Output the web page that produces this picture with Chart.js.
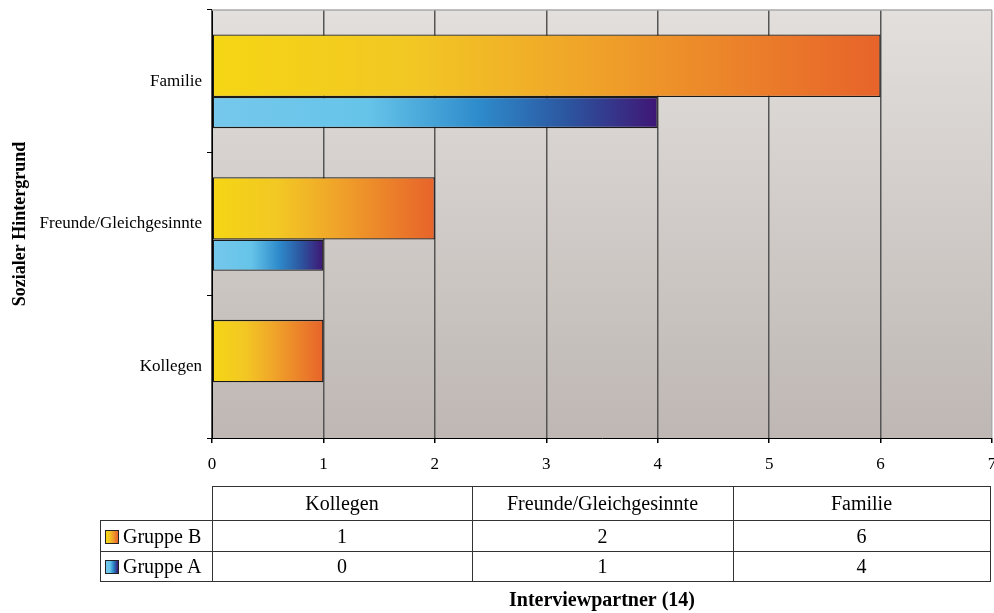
<!DOCTYPE html>
<html>
<head>
<meta charset="utf-8">
<script src="https://cdn.jsdelivr.net/npm/chart.js@4"></script>
<style>
    html, body { margin: 0; padding: 0; background: #fff; }
    #wrap { position: relative; width: 994px; height: 613px; }
    #chart { position: absolute; left: 0; top: 0; }
    #dataTable {
        position: absolute;
        left: 100px;
        top: 486px;
        border-collapse: collapse;
        font-family: 'Liberation Serif', 'Times New Roman', serif;
        font-size: 20px;
        color: #000;
    }
    #dataTable td {
        border: 1px solid #333;
        text-align: center;
        padding: 0;
    }
    #dataTable td.rowhead { text-align: left; padding-left: 4px; white-space: nowrap; }
    #dataTable td.corner { border-top: none; border-left: none; }
    .swatch {
        display: inline-block;
        width: 12px;
        height: 12px;
        border: 1px solid #222;
        margin-right: 4px;
        vertical-align: -1px;
    }
</style>
</head>
<body>
<div id="wrap">
    <canvas id="chart" width="994" height="613"></canvas>
    <table id="dataTable"></table>
</div>
<script>
// ========= DATA =========
const categories = ['Familie', 'Freunde/Gleichgesinnte', 'Kollegen'];
const gruppeB = [6, 2, 1];
const gruppeA = [4, 1, 0];
const seriesNames = ['Gruppe B', 'Gruppe A'];
const xTickValues = [0, 1, 2, 3, 4, 5, 6, 7];

// ========= COLOURS =========
const stopsB = [[0, '#F5D614'], [0.3, '#F2C724'], [0.55, '#F0A529'], [0.8, '#EB802A'], [1, '#E7632A']];
const stopsA = [[0, '#75C8EC'], [0.35, '#66C4E9'], [0.6, '#2E8BCB'], [0.8, '#2C559F'], [1, '#3F1675']];

function cssGradient(stops) {
    return 'linear-gradient(to right, ' + stops.map(s => s[1] + ' ' + (s[0] * 100) + '%').join(', ') + ')';
}

function barGradient(stops) {
    return ctx => {
        const chart = ctx.chart;
        if (!chart.chartArea || ctx.type !== 'data' || !ctx.parsed) return stops[0][1];
        const x = chart.scales.x;
        const x0 = x.getPixelForValue(0);
        const x1 = x.getPixelForValue(ctx.parsed.x);
        if (x1 - x0 < 1) return stops[0][1];
        const g = chart.ctx.createLinearGradient(x0, 0, x1, 0);
        stops.forEach(([o, c]) => g.addColorStop(o, c));
        return g;
    };
}

const borderIfValue = ctx => (ctx.parsed && ctx.parsed.x === 0 ? 0 : 1.3);

// empty slot datasets keep the two bars in the offset position of the original
function spacer() {
    return { label: '', data: [] };
}

// ========= PLOT BACKGROUND =========
const plotBackground = {
    id: 'plotBackground',
    beforeDraw(chart) {
        const { ctx, chartArea: a } = chart;
        const g = ctx.createLinearGradient(0, a.top, 0, a.bottom);
        g.addColorStop(0, '#E2DFDC');
        g.addColorStop(1, '#BEB7B3');
        ctx.save();
        ctx.fillStyle = g;
        ctx.fillRect(a.left, a.top, a.right - a.left, a.bottom - a.top);
        ctx.restore();
    },
    afterDraw(chart) {
        const { ctx, chartArea: a } = chart;
        ctx.save();
        ctx.strokeStyle = '#AAAAAA';
        ctx.lineWidth = 1.5;
        ctx.beginPath();
        ctx.moveTo(a.left, a.top);
        ctx.lineTo(a.right, a.top);
        ctx.stroke();
        ctx.restore();
    }
};

// ========= CHART =========
const serif = "'Liberation Serif', 'Times New Roman', serif";

new Chart(document.getElementById('chart'), {
    type: 'bar',
    data: {
        labels: categories,
        datasets: [
            spacer(),
            {
                label: seriesNames[0],
                data: gruppeB,
                backgroundColor: barGradient(stopsB),
                borderColor: '#1a1a1a',
                borderWidth: borderIfValue,
                borderSkipped: false,
                barPercentage: 4
            },
            spacer(),
            spacer(),
            {
                label: seriesNames[1],
                data: gruppeA,
                backgroundColor: barGradient(stopsA),
                borderColor: '#1a1a1a',
                borderWidth: borderIfValue,
                borderSkipped: false,
                barPercentage: 2
            }
        ]
    },
    options: {
        indexAxis: 'y',
        responsive: false,
        animation: false,
        datasets: {
            bar: { categoryPercentage: 0.547 }
        },
        layout: {
            padding: { top: 10, right: 2, left: 0, bottom: 0 }
        },
        scales: {
            x: {
                type: 'linear',
                min: 0,
                max: 7,
                afterBuildTicks: axis => {
                    axis.ticks = xTickValues.map(v => ({ value: v }));
                },
                afterFit: axis => {
                    axis.height = 175;
                    axis.paddingRight = 0;
                    axis.paddingLeft = 0;
                },
                grid: {
                    color: ctx => (ctx.tick && ctx.tick.value === 7 ? '#AAAAAA' : '#555555'),
                    lineWidth: 1.5,
                    tickColor: '#000',
                    tickLength: 5
                },
                border: { color: '#000', width: 1 },
                ticks: {
                    color: '#000',
                    font: { family: serif, size: 17 },
                    padding: 11,
                    maxRotation: 0
                },
                title: {
                    display: true,
                    text: 'Interviewpartner (14)',
                    color: '#000',
                    font: { family: serif, size: 20, weight: 'bold' },
                    padding: { top: 0, bottom: 0 }
                }
            },
            y: {
                type: 'category',
                offset: true,
                afterFit: axis => {
                    axis.width = 212;
                    axis.paddingTop = 0;
                    axis.paddingBottom = 0;
                },
                grid: {
                    drawOnChartArea: false,
                    color: '#000',
                    tickLength: 5,
                    offset: true
                },
                border: { color: '#000', width: 1 },
                ticks: {
                    color: '#000',
                    font: { family: serif, size: 17 },
                    padding: 5
                },
                title: {
                    display: true,
                    text: 'Sozialer Hintergrund',
                    color: '#000',
                    font: { family: serif, size: 18, weight: 'bold' },
                    padding: { top: 10, bottom: 0 }
                }
            }
        },
        plugins: {
            legend: { display: false },
            tooltip: { enabled: false }
        }
    },
    plugins: [plotBackground]
});

// ========= DATA TABLE =========
function buildTable() {
    const table = document.getElementById('dataTable');
    const order = categories.map((_, i) => i).reverse();
    const colWidths = [259, 260, 256];

    let html = '<tr style="height:34px"><td class="corner" style="width:111px"></td>';
    order.forEach((i, k) => {
        html += `<td style="width:${colWidths[k]}px">${categories[i]}</td>`;
    });
    html += '</tr>';

    const rows = [
        { name: seriesNames[0], values: gruppeB, stops: stopsB, h: 31 },
        { name: seriesNames[1], values: gruppeA, stops: stopsA, h: 30 }
    ];
    rows.forEach(r => {
        html += `<tr style="height:${r.h}px"><td class="rowhead">` +
            `<span class="swatch" style="background:${cssGradient(r.stops)}"></span>${r.name}</td>`;
        order.forEach(i => {
            html += `<td>${r.values[i]}</td>`;
        });
        html += '</tr>';
    });
    table.innerHTML = html;
}

buildTable();
</script>
</body>
</html>
